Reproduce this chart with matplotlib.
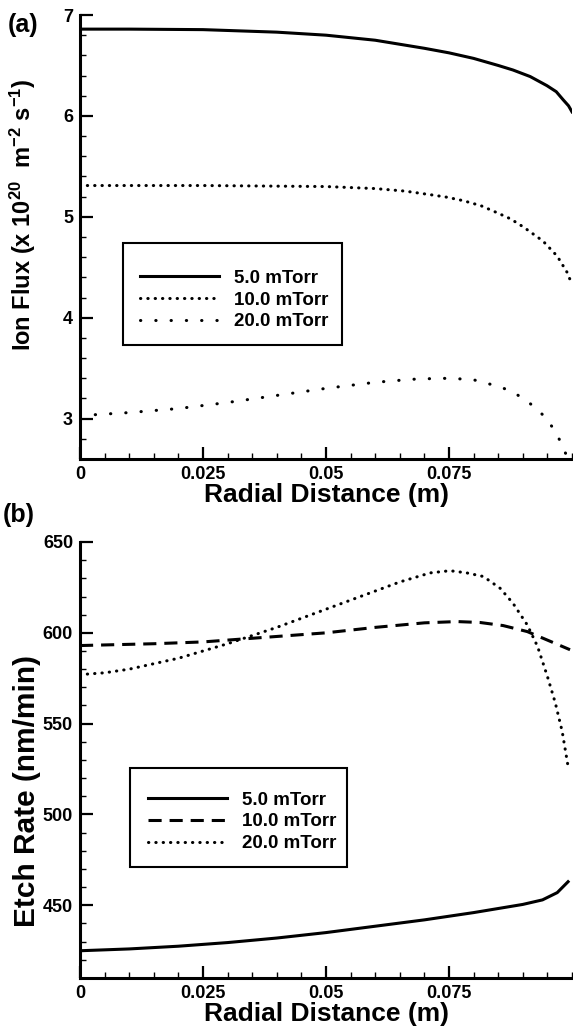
import numpy as np
import matplotlib
matplotlib.use("Agg")
import matplotlib.pyplot as plt
from matplotlib.patches import Rectangle
from matplotlib.ticker import MultipleLocator

plt.rcParams['font.family'] = ['Liberation Sans', 'DejaVu Sans']
plt.rcParams['font.weight'] = 'bold'
plt.rcParams['mathtext.fontset'] = 'custom'
plt.rcParams['mathtext.bf'] = 'Liberation Sans:bold'
plt.rcParams['mathtext.rm'] = 'Liberation Sans:bold'
plt.rcParams['mathtext.default'] = 'bf'

#%% data
labels = ['5.0 mTorr', '10.0 mTorr', '20.0 mTorr']

# (a) ion flux, x 1e20 m^-2 s^-1
r_a5 = [0, 0.01, 0.025, 0.04, 0.05, 0.06, 0.07, 0.075, 0.08, 0.085, 0.088, 0.0915,
        0.0949, 0.0968, 0.0982, 0.0993, 0.1]
flux5 = [6.86, 6.86, 6.855, 6.83, 6.80, 6.75, 6.67, 6.625, 6.57, 6.50, 6.455, 6.39,
         6.30, 6.24, 6.16, 6.10, 6.04]
r_a10 = [0, 0.025, 0.05, 0.06, 0.066, 0.0711, 0.0745, 0.0779, 0.0815, 0.0848, 0.0875,
         0.0901, 0.0941, 0.097, 0.099, 0.1]
flux10 = [5.31, 5.31, 5.30, 5.28, 5.255, 5.22, 5.195, 5.16, 5.11, 5.04, 4.98,
          4.90, 4.76, 4.61, 4.45, 4.33]
r_a20 = [0, 0.01, 0.02, 0.03, 0.04, 0.05, 0.06, 0.0675, 0.0735, 0.0796, 0.0854,
         0.0881, 0.0907, 0.093, 0.095, 0.0966, 0.0979, 0.099]
flux20 = [3.03, 3.06, 3.10, 3.16, 3.23, 3.30, 3.36, 3.39, 3.40, 3.39, 3.315,
          3.26, 3.18, 3.09, 2.99, 2.87, 2.75, 2.62]

# (b) etch rate, nm/min
r_b5 = [0, 0.01, 0.02, 0.03, 0.04, 0.05, 0.06, 0.07, 0.08, 0.09, 0.094, 0.097, 0.0992]
etch5 = [425, 426, 427.5, 429.5, 432, 435, 438.5, 442, 446, 450.5, 453, 457, 463]
r_b10 = [0, 0.015, 0.025, 0.04, 0.05, 0.06, 0.07, 0.0766, 0.0813, 0.086, 0.0909, 0.095, 0.0996]
etch10 = [593, 594, 595, 598, 600, 603, 605.5, 606.2, 605.7, 604, 600.7, 596, 590.7]
r_b20 = [0, 0.005, 0.01, 0.02, 0.03, 0.04, 0.05, 0.06, 0.065, 0.0712, 0.0752, 0.0786,
         0.082, 0.0854, 0.088, 0.0909, 0.093, 0.095, 0.0966, 0.098, 0.0992]
etch20 = [577, 578, 580, 586, 594, 603, 613, 623, 628, 633, 634.2, 633, 631, 624.5,
          616.3, 604.4, 592.5, 576, 561.5, 545.8, 526.5]

#%%
W, H = 573, 1026
fig = plt.figure(figsize=(W/100, H/100), dpi=100)
ax1 = fig.add_axes([80/W, 1-459/H, 492/W, 444/H])
ax2 = fig.add_axes([80/W, 1-978/H, 492/W, 436/H])

lw = 2.2
ax1.plot(r_a5, flux5, color='k', lw=lw, label=labels[0])
ax1.plot(r_a10, flux10, color='k', lw=lw, ls=(0, (0.1, 2.3)), dash_capstyle='round', label=labels[1])
ax1.plot(r_a20, flux20, color='k', lw=lw, ls=(0, (0.1, 4.9)), dash_capstyle='round', label=labels[2])

ax2.plot(r_b5, etch5, color='k', lw=lw, label=labels[0])
ax2.plot(r_b10, etch10, color='k', lw=lw, ls=(0, (4.3, 2.6)), label=labels[1])
ax2.plot(r_b20, etch20, color='k', lw=lw, ls=(0, (0.1, 2.3)), dash_capstyle='round', label=labels[2])

ax1.set_ylim(2.6, 7)
ax1.yaxis.set_major_locator(MultipleLocator(1))
ax1.yaxis.set_minor_locator(MultipleLocator(0.2))
ax2.set_ylim(410, 650)
ax2.yaxis.set_major_locator(MultipleLocator(50))
ax2.yaxis.set_minor_locator(MultipleLocator(10))

for ax in (ax1, ax2):
    ax.set_xlim(0, 0.1)
    ax.set_xticks([0, 0.025, 0.05, 0.075], ['0', '0.025', '0.05', '0.075'])
    ax.xaxis.set_minor_locator(MultipleLocator(0.005))
    ax.spines['top'].set_visible(False)
    ax.spines['right'].set_visible(False)
    ax.spines['left'].set_linewidth(2.2)
    ax.spines['bottom'].set_linewidth(2.2)
    ax.tick_params(which='major', direction='in', length=9, width=1.6, labelsize=13, pad=5)
    ax.tick_params(which='minor', direction='in', length=4.5, width=1.0)
    ax.set_xlabel('Radial Distance (m)', fontsize=19, fontweight='bold', labelpad=0)
    ax.patch.set_visible(False)

ax1.set_ylabel('Ion Flux (x 10$^{20}$  m$^{-2}$ s$^{-1}$)', fontsize=17, fontweight='bold')
ax1.yaxis.set_label_coords(-0.085, 0.55)
ax2.set_ylabel('Etch Rate (nm/min)', fontsize=21.5, fontweight='bold')
ax2.yaxis.set_label_coords(-0.08, 0.43)

# legend boxes
for ax, box, anchor in ((ax1, (0.087, 0.257, 0.445, 0.229), (0.122, 0.358)),
                        (ax2, (0.102, 0.255, 0.441, 0.227), (0.138, 0.358))):
    ax.add_patch(Rectangle(box[:2], box[2], box[3], transform=ax.transAxes,
                           facecolor='white', edgecolor='k', lw=1.5, zorder=3))
    leg = ax.legend(loc='center left', bbox_to_anchor=anchor, frameon=False,
                    fontsize=13.5, handlelength=4.2, handletextpad=0.8,
                    labelspacing=0.25, borderpad=0, borderaxespad=0)
    leg.set_zorder(4)
    for t in leg.get_texts():
        t.set_fontweight('bold')

fig.text(8/W, 1-25/H, '(a)', fontsize=18, fontweight='bold', va='center', ha='left')
fig.text(3/W, 1-515/H, '(b)', fontsize=18, fontweight='bold', va='center', ha='left')

fig.savefig('out.png', dpi=100)
